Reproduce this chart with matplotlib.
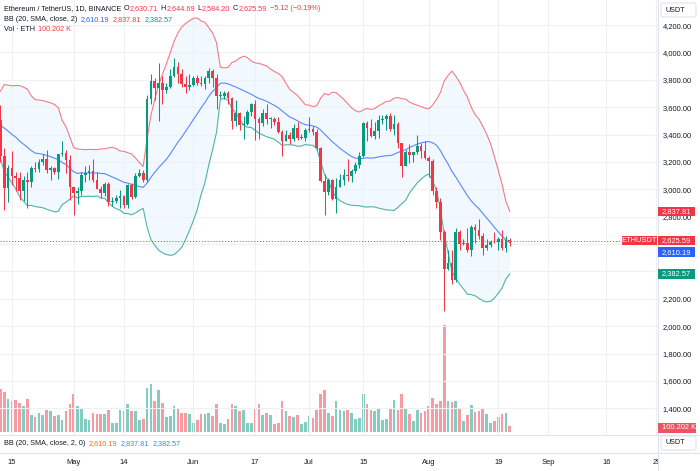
import numpy as np
import pandas as pd
import matplotlib
matplotlib.use('Agg')
import matplotlib.pyplot as plt
import matplotlib.dates as mdates
from matplotlib.lines import Line2D
from matplotlib.patches import Rectangle, FancyBboxPatch

plt.rcParams['font.family'] = ['Liberation Sans', 'DejaVu Sans']

# ETHUSDT daily, 2024-04-12 .. 2024-08-22 (Binance, 1D)
start = '2024-04-12'
first_open = 3505.0
# closes before the first visible candle (Mar 24 .. Apr 11), only used to warm up the BB
warmup_closes = [3455, 3590, 3585, 3490, 3560, 3510, 3505, 3645, 3505, 3280,
                 3310, 3330, 3320, 3350, 3455, 3700, 3505, 3545, 3505]

closes = [
    # Apr 12-30
    3240, 3007, 3155, 3100, 3085, 2985, 3065, 3055, 3155, 3148, 3200, 3220, 3140, 3155, 3130, 3255, 3265, 3215, 3015,
    # May
    2970, 2990, 3105, 3117, 3137, 3065, 3005, 2975, 3036, 2910, 2912, 2935, 2950, 2882, 3035, 2945, 3095, 3122, 3070,
    3662, 3790, 3737, 3780, 3727, 3750, 3825, 3892, 3840, 3767, 3747, 3760,
    # Jun
    3815, 3780, 3767, 3811, 3865, 3812, 3680, 3681, 3705, 3667, 3497, 3560, 3470, 3478, 3566, 3620, 3510, 3485, 3560,
    3516, 3517, 3493, 3420, 3353, 3397, 3370, 3445, 3374, 3378, 3434,
    # Jul
    3440, 3422, 3300, 3060, 2983, 3067, 2930, 3020, 3065, 3105, 3100, 3135, 3175, 3245, 3485, 3445, 3390, 3426, 3505,
    3517, 3535, 3440, 3480, 3335, 3172, 3275, 3250, 3270, 3320, 3280, 3230,
    # Aug 1-22
    3205, 2990, 2904, 2690, 2420, 2460, 2340, 2685, 2600, 2610, 2555, 2722, 2703, 2662, 2570, 2593, 2615, 2612, 2637,
    2570, 2630.71, 2625.59,
]

highs = [
    3618, 3300, 3180, 3280, 3125, 3125, 3095, 3130, 3170, 3200, 3225, 3255, 3290, 3170, 3165, 3260, 3355, 3285, 3250,
    3020, 3020, 3125, 3170, 3175, 3220, 3130, 3025, 3055, 3050, 2945, 2955, 2995, 2960, 3040, 3045, 3120, 3145, 3140,
    3690, 3840, 3815, 3920, 3830, 3780, 3880, 3960, 3930, 3880, 3825, 3845,
    3830, 3835, 3830, 3830, 3885, 3880, 3840, 3715, 3715, 3720, 3675, 3655, 3565, 3535, 3580, 3630, 3650, 3525, 3585,
    3625, 3530, 3530, 3525, 3430, 3430, 3420, 3480, 3490, 3405, 3450,
    3525, 3465, 3440, 3310, 3110, 3085, 3075, 3085, 3110, 3145, 3220, 3150, 3200, 3275, 3495, 3500, 3515, 3490, 3545,
    3545, 3550, 3560, 3545, 3490, 3340, 3290, 3330, 3275, 3395, 3340, 3350,
    3245, 3220, 3015, 2935, 2700, 2555, 2560, 2720, 2700, 2640, 2720, 2740, 2745, 2780, 2680, 2635, 2630, 2690, 2650,
    2700, 2660, 2644.69,
]

lows = [
    3200, 2852, 2905, 3030, 2990, 2920, 2915, 2865, 3020, 3130, 3130, 3180, 3120, 3070, 3110, 3075, 3240, 3120, 2920,
    2815, 2890, 2955, 3050, 3070, 3050, 3000, 2935, 2950, 2880, 2880, 2900, 2865, 2860, 2865, 2930, 2935, 3090, 3050,
    3050, 3620, 3655, 3500, 3620, 3705, 3740, 3820, 3775, 3745, 3700, 3725,
    3752, 3760, 3755, 3730, 3775, 3750, 3590, 3665, 3660, 3625, 3440, 3465, 3430, 3365, 3470, 3535, 3360, 3370, 3465,
    3480, 3445, 3470, 3410, 3240, 3350, 3330, 3350, 3360, 3365, 3350,
    3420, 3400, 3285, 3050, 2810, 2960, 2920, 2825, 3015, 3035, 3060, 3050, 3120, 3155, 3235, 3355, 3385, 3370, 3375,
    3480, 3430, 3425, 3400, 3305, 3087, 3170, 3190, 3200, 3260, 3230, 3225,
    3090, 2960, 2860, 2630, 2111, 2410, 2310, 2325, 2555, 2590, 2545, 2510, 2610, 2640, 2520, 2555, 2580, 2605, 2560,
    2560, 2540, 2584.20,
]

# volume in thousands of ETH
volumes_k = [
    780, 720, 600, 560, 580, 520, 470, 600, 300, 270, 340, 300, 400, 380, 290, 300, 220, 370, 510,
    680, 460, 440, 240, 210, 350, 320, 320, 330, 400, 170, 160, 390, 370, 510, 380, 370, 210, 240,
    800, 870, 550, 760, 530, 270, 280, 460, 440, 340, 350, 330,
    160, 210, 330, 320, 350, 290, 510, 170, 150, 240, 500, 460, 370, 390, 170, 160, 440, 510, 300,
    350, 300, 150, 170, 560, 370, 280, 270, 300, 150, 180,
    280, 260, 400, 680, 760, 340, 280, 550, 400, 380, 400, 340, 230, 260, 680, 510, 400, 370, 440,
    220, 230, 410, 580, 400, 680, 410, 320, 200, 400, 350, 370,
    460, 620, 500, 560, 1930, 560, 540, 560, 420, 200, 300, 480, 360, 380, 440, 320, 160, 190, 270,
    320, 340, 100.202,
]

# last values shown in the legends / scale tags
bb_basis_last, bb_upper_last, bb_lower_last = 2610.19, 2837.81, 2382.57
change_text = '\u22125.12 (\u22120.19%)'

time_ticks = [('2024-04-15', '15'), ('2024-05-01', 'May'), ('2024-05-14', '14'), ('2024-06-01', 'Jun'),
              ('2024-06-17', '17'), ('2024-07-01', 'Jul'), ('2024-07-15', '15'), ('2024-08-01', 'Aug'),
              ('2024-08-19', '19'), ('2024-09-01', 'Sep'), ('2024-09-16', '16'), ('2024-09-29', '29')]
price_ticks = list(range(1400, 4201, 200))
hidden_ticks = [2400, 2600]  # covered by the value tags

UP, DOWN = '#089981', '#F23645'
BLUE, DARK = '#2962FF', '#131722'

dates = pd.date_range(start, periods=len(closes), freq='D')
x = mdates.date2num(dates)
opens = [first_open] + closes[:-1]

# Bollinger Bands (20, SMA, close, 2)
allc = pd.Series(warmup_closes + closes, dtype=float)
mid = allc.rolling(20).mean().to_numpy()[-len(closes):]
sd = allc.rolling(20).std(ddof=0).to_numpy()[-len(closes):]
upper, lower = mid + 2 * sd, mid - 2 * sd

W, H = 700, 471
fig = plt.figure(figsize=(W / 100, H / 100), dpi=100)


def frac(x0, y0, x1, y1):
    return [x0 / W, 1 - y1 / H, (x1 - x0) / W, (y1 - y0) / H]


ax = fig.add_axes(frac(0, 0, 658, 435))
axv = ax.twinx()
ax.set_zorder(axv.get_zorder() + 1)
ax.patch.set_visible(False)

xlim = (x[0] - 0.1, x[0] + 170.4)
ax.set_xlim(*xlim)
ax.set_ylim(1205, 4383)
axv.set_ylim(-54, 7776)
axv.set_axis_off()

# grid / ticks
ax.set_xticks([mdates.date2num(pd.Timestamp(d)) for d, _ in time_ticks])
ax.set_yticks(price_ticks)
ax.set_yticklabels(['' if v in hidden_ticks else f'{v:,.2f}' for v in price_ticks])
ax.yaxis.tick_right()
ax.tick_params(axis='y', length=0, pad=3.5, labelsize=5.4, labelcolor=DARK)
ax.tick_params(axis='x', length=0, labelbottom=False)
ax.grid(color='#eef0f4', lw=0.8)
for s in ax.spines.values():
    s.set_visible(False)

# volume
up = np.array(closes) >= np.array(opens)
vcols = np.where(up, '#83ccc0', '#f89aa2')
axv.bar(x, volumes_k, width=0.7, color=vcols, lw=0)

# bollinger bands
ax.fill_between(x, upper, lower, color='#2196F3', alpha=0.06, lw=0, zorder=1)
ax.plot(x, upper, color=DOWN, lw=0.8, alpha=0.65, zorder=2)
ax.plot(x, mid, color=BLUE, lw=0.8, alpha=0.75, zorder=2)
ax.plot(x, lower, color=UP, lw=0.8, alpha=0.7, zorder=2)

# candles
ccols = np.where(up, UP, DOWN)
bottoms = np.minimum(opens, closes)
heights = np.maximum(np.abs(np.array(closes) - np.array(opens)), 6)
ax.vlines(x, lows, highs, colors=ccols, lw=0.75, zorder=3)
ax.bar(x, heights, width=0.7, bottom=bottoms, color=ccols, lw=0, zorder=4)

last = closes[-1]
ax.axhline(last, xmin=0, xmax=622 / 658, color=DOWN, lw=0.7, ls=(0, (1, 2)), zorder=2)

# pane separators
for yy in (435, 453):
    fig.add_artist(Line2D([0, 1], [1 - yy / H] * 2, transform=fig.transFigure, color='#e0e3eb', lw=0.8))
fig.add_artist(Line2D([658 / W] * 2, [0, 1], transform=fig.transFigure, color='#e0e3eb', lw=0.8))

# time axis
axt = fig.add_axes(frac(0, 453, 658, 471))
axt.set_xlim(*xlim)
axt.set_ylim(0, 1)
axt.set_axis_off()
for d, lab in time_ticks:
    axt.text(mdates.date2num(pd.Timestamp(d)), 0.5, lab, ha='center', va='center',
             fontsize=5.4, color=DARK, clip_on=True)


# price tags on the right scale
def ypx(axis, val):
    return axis.transData.transform((x[0], val))[1]


def tag(x0, x1, yc, text, fc, center=False):
    fig.add_artist(Rectangle((x0 / W, (yc - 4.8) / H), (x1 - x0) / W, 9.6 / H,
                             transform=fig.transFigure, fc=fc, ec='none', zorder=5))
    if center:
        fig.text((x0 + x1) / 2 / W, yc / H, text, color='white', fontsize=5.4,
                 ha='center', va='center', zorder=6)
    else:
        fig.text((x0 + 4) / W, yc / H, text, color='white', fontsize=5.4,
                 ha='left', va='center', zorder=6)


tag(658, 695, ypx(ax, bb_upper_last), f'{bb_upper_last:,.2f}', DOWN)
tag(658, 695, ypx(ax, last), f'{last:,.2f}', DOWN)
tag(622, 657, ypx(ax, last), 'ETHUSDT', DOWN, center=True)
tag(658, 695, ypx(ax, last) - 11.5, f'{bb_basis_last:,.2f}', BLUE)
tag(658, 695, ypx(ax, bb_lower_last), f'{bb_lower_last:,.2f}', UP)
tag(658, 696, ypx(axv, volumes_k[-1]) - 1.5, f'{volumes_k[-1]:.3f} K', '#ef5361')

for top in (3, 436):
    fig.add_artist(FancyBboxPatch((661 / W, 1 - (top + 14) / H), 35 / W, 14 / H,
                                  boxstyle='round,pad=0,rounding_size=0.004',
                                  transform=fig.transFigure, fc='white', ec='#e0e3eb', lw=0.8, zorder=5))
    fig.text(665 / W, 1 - (top + 7) / H, 'USDT', fontsize=5.2, color=DARK, ha='left', va='center', zorder=6)

# legends
renderer = fig.canvas.get_renderer()


def legend_line(x_px, y_px, parts, size=5.2):
    for txt, col, gap in parts:
        t = fig.text(x_px / W, 1 - y_px / H, txt, color=col, fontsize=size, ha='left', va='center', zorder=6)
        x_px += t.get_window_extent(renderer).width + gap


legend_line(4, 9, [('Ethereum / TetherUS, 1D, BINANCE', DARK, 2.5), ('O', DARK, 0.5), ('2,630.71', DOWN, 2.5),
                   ('H', DARK, 0.5), ('2,644.69', DOWN, 2.5), ('L', DARK, 0.5), ('2,584.20', DOWN, 2.5),
                   ('C', DARK, 0.5), (f'{last:,.2f}', DOWN, 3), (change_text, DOWN, 0)])
legend_line(4, 19.5, [('BB (20, SMA, close, 2)', DARK, 3), (f'{bb_basis_last:,.2f}', BLUE, 3.5),
                      (f'{bb_upper_last:,.2f}', DOWN, 3.5), (f'{bb_lower_last:,.2f}', UP, 0)])
legend_line(4, 29.5, [('Vol \u00b7 ETH', DARK, 3.5), (f'{volumes_k[-1]:.3f} K', DOWN, 0)])
legend_line(4, 443.5, [('BB (20, SMA, close, 2, 0)', DARK, 3), (f'{bb_basis_last:,.2f}', '#FF6D00', 3.5),
                       (f'{bb_upper_last:,.2f}', '#2196F3', 3.5), (f'{bb_lower_last:,.2f}', '#2196F3', 0)])

fig.savefig('out.png', dpi=100)
